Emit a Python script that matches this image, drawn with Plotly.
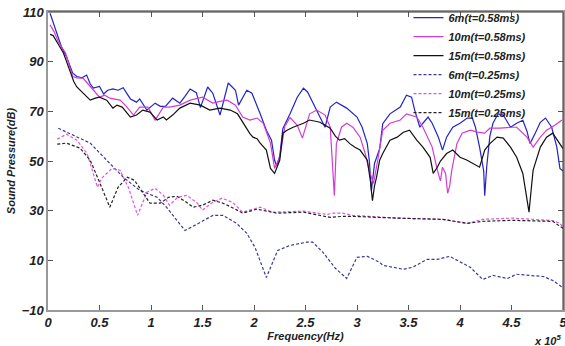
import plotly.graph_objects as go

# ---- data (frequency in units of 1e5 Hz, sound pressure in dB) ----
x_6m_058 = [0.02, 0.08, 0.13, 0.18, 0.21, 0.24, 0.28, 0.33, 0.375, 0.41, 0.44, 0.5, 0.54, 0.58, 0.63, 0.68, 0.73,
            0.8, 0.86, 0.89, 0.96, 1.0, 1.04, 1.09, 1.14, 1.21, 1.28, 1.33, 1.38, 1.44, 1.48, 1.55, 1.6, 1.67,
            1.75, 1.82, 1.85, 1.93, 1.98, 2.06, 2.12, 2.17, 2.2, 2.22, 2.25, 2.28, 2.35, 2.42, 2.48, 2.52, 2.57,
            2.64, 2.69, 2.74, 2.8, 2.9, 3.0, 3.05, 3.1, 3.12, 3.14, 3.17, 3.22, 3.25, 3.32, 3.37, 3.42, 3.48,
            3.53, 3.56, 3.61, 3.64, 3.69, 3.73, 3.79, 3.83, 3.87, 3.93, 4.0, 4.07, 4.12, 4.15, 4.19, 4.23, 4.24,
            4.26, 4.29, 4.32, 4.37, 4.42, 4.49, 4.55, 4.61, 4.65, 4.68, 4.73, 4.78, 4.83, 4.89, 4.94, 4.97, 5.0]
y_6m_058 = [109.5, 102, 96, 92, 89, 85.4, 84, 83.5, 84.6, 81, 79.4, 80, 77, 78.5, 79, 78.5, 79.5,
            75, 73.7, 75, 70.5, 72, 73.3, 72, 72, 75.3, 73.3, 76, 79, 77.5, 71.5, 79.8, 77.3, 68.5,
            81.4, 78.5, 72.5, 78.5, 77.3, 69, 62.4, 58.4, 50.3, 48, 52, 63, 69, 75.7, 79.3, 77.8, 73.3,
            67.7, 63.6, 71.7, 73.7, 71.3, 67.7, 63.6, 57, 50, 38, 49, 55, 65, 69, 70.5, 71.7, 76.5,
            75.7, 70.5, 63.6, 65.2, 67.7, 65.2, 59.6, 54.4, 59.6, 63.6, 65.2, 67.3, 67.3, 63.6, 55.6, 46, 36,
            48, 60, 65.2, 69, 68.5, 63.6, 65.2, 66.4, 62, 57, 61.2, 65.6, 67.3, 63.6, 55.6, 47, 46]

x_10m_058 = [0.02, 0.06, 0.1, 0.17, 0.21, 0.24, 0.28, 0.34, 0.4, 0.44, 0.5, 0.55, 0.6, 0.7, 0.76, 0.83, 0.89,
             0.97, 1.04, 1.12, 1.18, 1.28, 1.38, 1.5, 1.6, 1.67, 1.74, 1.82, 1.89, 1.96, 2.03, 2.09, 2.16, 2.2,
             2.25, 2.3, 2.35, 2.42, 2.47, 2.54, 2.61, 2.69, 2.74, 2.76, 2.78, 2.8, 2.85, 2.9, 2.96, 3.03, 3.08,
             3.12, 3.16, 3.2, 3.25, 3.32, 3.42, 3.48, 3.58, 3.64, 3.73, 3.78, 3.81, 3.83, 3.86, 3.88, 3.9, 3.92,
             3.97, 4.02, 4.1, 4.17, 4.24, 4.29, 4.39, 4.49, 4.55, 4.65, 4.71, 4.78, 4.84, 4.92, 4.99]
y_10m_058 = [104.8, 102, 98, 93.5, 88, 84, 83.5, 83.4, 80.5, 78.5, 75.7, 76.5, 75.3, 74.5, 72, 68.5, 71.7,
             71.7, 66.5, 71.7, 71.7, 72.5, 74.5, 75.7, 73.3, 74, 74.5, 72.5, 67.7, 66.5, 67.3, 65.2, 57.2, 47,
             51.5, 64, 67.5, 64.4, 59.2, 69, 70.5, 68.5, 63.6, 50, 36, 57, 63.6, 65.2, 63.6, 59.6, 53,
             46, 41, 50, 62.4, 65.2, 66.5, 69, 67.7, 63.6, 55.6, 46.3, 42, 47.5, 45, 37, 40, 46.3,
             57, 61.2, 62.4, 61.6, 61.2, 63.2, 63.2, 63.6, 63.6, 59.6, 55.6, 59.6, 62.4, 64.4, 66.5]

x_15m_058 = [0.02, 0.05, 0.1, 0.15, 0.21, 0.25, 0.28, 0.34, 0.38, 0.41, 0.46, 0.5, 0.57, 0.63, 0.67, 0.72,
             0.8, 0.86, 0.92, 0.99, 1.06, 1.12, 1.15, 1.21, 1.28, 1.38, 1.48, 1.57, 1.67, 1.77, 1.84, 1.9,
             1.93, 1.96, 1.99, 2.03, 2.06, 2.09, 2.12, 2.16, 2.2, 2.25, 2.28, 2.32, 2.38, 2.48, 2.54, 2.64,
             2.74, 2.79, 2.83, 2.88, 2.93, 2.98, 3.03, 3.1, 3.13, 3.15, 3.17, 3.19, 3.22, 3.25, 3.32, 3.39,
             3.45, 3.51, 3.58, 3.64, 3.71, 3.74, 3.78, 3.81, 3.87, 3.93, 4.0, 4.07, 4.13, 4.19, 4.24, 4.29,
             4.36, 4.42, 4.49, 4.55, 4.61, 4.64, 4.67, 4.69, 4.71, 4.78, 4.84, 4.9, 4.97, 5.0]
y_15m_058 = [101, 100.5, 97, 93.5, 86.6, 82, 79.8, 77.3, 76, 74.5, 75.3, 75.7, 74.5, 71.3, 72.5, 71.7,
             67.7, 68.5, 70.5, 69.7, 66.5, 67.7, 66.5, 68.5, 71.3, 73.3, 72.5, 70.5, 71.3, 70.5, 69, 65,
             63.2, 61, 59.6, 59, 57.2, 56, 54.4, 47, 45, 50.3, 61.2, 62.4, 63.6, 65.2, 66.5, 65.6,
             63.2, 60, 58.4, 59, 57, 55.5, 54.4, 50.3, 42, 34, 40, 43.5, 50.3, 53, 58.4, 59.6,
             61.6, 62.4, 58.4, 55.6, 51.5, 45, 47.5, 50, 53, 54.4, 51.5, 50.3, 49, 47.5, 54.4, 57,
             59.6, 59.2, 55.6, 51.5, 45, 38, 29.4, 38, 46.3, 55.6, 59.6, 61.2, 57, 55]

x_6m_025 = [0.1, 0.41, 0.57, 0.73, 0.89, 1.06, 1.15, 1.25, 1.33, 1.48, 1.6, 1.7, 1.83, 1.93, 2.01, 2.12,
            2.23, 2.35, 2.51, 2.57, 2.67, 2.79, 2.9, 3.0, 3.1, 3.22, 3.25, 3.45, 3.54, 3.68, 3.78, 3.9,
            4.1, 4.22, 4.32, 4.46, 4.55, 4.68, 4.81, 4.9, 5.0]
y_6m_025 = [63.2, 57.2, 50.3, 43.5, 38.2, 35.4, 31.4, 26, 22, 25.3, 28.1, 28.1, 24.9, 20.9, 15.2, 3.1,
            14, 16, 17.3, 17.3, 13.2, 6.8, 2.7, 11.2, 11.6, 9.2, 8, 6.4, 7.2, 10.4, 10.4, 11.6,
            7.2, 2.3, 3.9, 2.7, 4.4, 3.9, 3.5, 1.9, -1]

x_10m_025 = [0.09, 0.18, 0.28, 0.38, 0.43, 0.48, 0.52, 0.62, 0.7, 0.78, 0.87, 0.96, 1.04, 1.12, 1.18,
             1.26, 1.35, 1.45, 1.5, 1.6, 1.69, 1.79, 1.89, 2.06, 2.18, 2.48, 2.71, 2.77, 2.86, 2.96,
             3.39, 3.83, 4.07, 4.22, 4.51, 4.9, 4.97, 5.0]
y_10m_025 = [58.8, 60.8, 58.4, 53, 46.3, 39.4, 43, 47, 46.3, 39.4, 28.1, 37.4, 39, 36.2, 32.2,
             35.4, 36.2, 33, 30.2, 33.4, 35, 33.4, 29.4, 31.4, 29.4, 29.8, 28.5, 29, 29, 28.1,
             27, 26.5, 24.9, 26.5, 27, 26, 24.9, 23.3]

x_15m_025 = [0.09, 0.18, 0.31, 0.41, 0.48, 0.53, 0.6, 0.68, 0.77, 0.84, 0.92, 0.99, 1.09, 1.17, 1.25,
             1.33, 1.41, 1.5, 1.6, 1.7, 1.8, 1.89, 2.03, 2.22, 2.48, 2.74, 2.86, 2.96, 3.39, 3.83, 4.07,
             4.22, 4.51, 4.9, 5.0]
y_15m_025 = [56.8, 57.2, 55.2, 50.3, 43.5, 38.2, 31.4, 39.4, 43.5, 42.2, 37.4, 33, 33, 35.4, 35.8,
             33.8, 31.4, 32.2, 34.2, 33, 31, 29, 30.6, 29, 29.4, 27.3, 27.7, 27.7, 27, 26.5, 24.9,
             25.7, 26.1, 25.7, 22.9]

x_ticks = [0, 0.5, 1, 1.5, 2, 2.5, 3, 3.5, 4, 4.5, 5]
x_tick_labels = ["0", "0.5", "1", "1.5", "2", "2.5", "3", "3.5", "4", "4.5", "5"]
y_ticks = [-10, 10, 30, 50, 70, 90, 110]

series = [
    ("6m(t=0.58ms)", x_6m_058, y_6m_058, "#2323c8", "solid"),
    ("10m(t=0.58ms)", x_10m_058, y_10m_058, "#d23cd2", "solid"),
    ("15m(t=0.58ms)", x_15m_058, y_15m_058, "#111111", "solid"),
    ("6m(t=0.25ms)", x_6m_025, y_6m_025, "#3a3a9c", "3px,2px"),
    ("10m(t=0.25ms)", x_10m_025, y_10m_025, "#e055e0", "3px,2px"),
    ("15m(t=0.25ms)", x_15m_025, y_15m_025, "#222222", "3px,2px"),
]

fig = go.Figure()
for name, xs, ys, color, dash in series:
    fig.add_trace(go.Scatter(x=xs, y=ys, mode="lines", name=name,
                             line=dict(color=color, width=1.2, dash=dash)))

font_bi = dict(family="Liberation Sans, Arial, sans-serif", weight="bold", style="italic", color="#222")

fig.update_layout(
    width=565, height=346,
    margin=dict(l=48, r=2, t=12, b=36, autoexpand=False),
    paper_bgcolor="white", plot_bgcolor="white",
    showlegend=True,
    legend=dict(x=0.70, y=1.03, xanchor="left", yanchor="top", bgcolor="rgba(255,255,255,0)",
                font=dict(size=11, **font_bi), tracegroupgap=0, itemwidth=30),
    xaxis=dict(range=[0, 5], tickvals=x_ticks, ticktext=x_tick_labels, showgrid=False, zeroline=False,
               showline=True, linecolor="#999", linewidth=1.5, mirror="allticks", ticks="inside", ticklen=5,
               tickcolor="#555", tickfont=dict(size=13, **font_bi), automargin=False,
               ticklabeloverflow="allow",
               title=dict(text="Frequency(Hz)", font=dict(size=11, **font_bi), standoff=2)),
    yaxis=dict(range=[-10, 110], tickvals=y_ticks, showgrid=False, zeroline=False,
               showline=True, linecolor="#999", linewidth=1.5, mirror="allticks", ticks="inside", ticklen=5,
               tickcolor="#555", tickfont=dict(size=13, **font_bi), automargin=False,
               ticklabeloverflow="allow",
               title=dict(text="Sound Pressure(dB)", font=dict(size=11, **font_bi), standoff=4)),
    shapes=[
        dict(type="line", xref="paper", yref="paper", x0=0, x1=1, y0=1, y1=1, line=dict(color="#333", width=1)),
        dict(type="line", xref="paper", yref="paper", x0=1, x1=1, y0=0, y1=1, line=dict(color="#333", width=1)),
    ],
    annotations=[
        dict(text="x 10<sup>5</sup>", xref="paper", yref="paper", x=1.0, y=0, xanchor="right", yanchor="top",
             yshift=-21, showarrow=False, font=dict(size=11, **font_bi)),
    ],
)

fig.write_html("out.html", config={"displayModeBar": False},
               post_script="document.body.style.margin='0px';document.body.style.overflow='hidden';")
